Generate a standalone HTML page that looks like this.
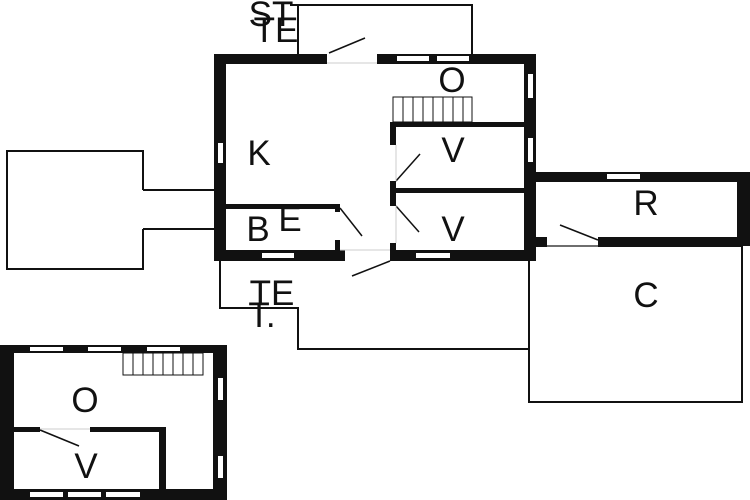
<!DOCTYPE html>
<html><head><style>html,body{margin:0;padding:0;background:#fff}svg{display:block}text{font-family:"Liberation Sans",sans-serif;fill:#111}</style></head>
<body>
<svg width="750" height="500" viewBox="0 0 750 500" xmlns="http://www.w3.org/2000/svg">
<g fill="none" stroke="#111" stroke-width="2">
<path d="M143,190 H214 M143,229 H214 M143,190 V151 H7 V269 H143 V229"/>
<path d="M298,54 V5 H472 V54 M290,5 H298"/>
<path d="M220,261 V308 H298 V349 H529"/>
<rect x="529" y="246" width="213" height="156"/>
</g>
<g fill="#111">
<rect x="214" y="54" width="113" height="10"/>
<rect x="377" y="54" width="159" height="10"/>
<rect x="214" y="54" width="12" height="207"/>
<rect x="524" y="54" width="12" height="207"/>
<rect x="214" y="250" width="131" height="11"/>
<rect x="390" y="250" width="146" height="11"/>
<rect x="390" y="122" width="134" height="5"/>
<rect x="390" y="122" width="6" height="23"/>
<rect x="390" y="181" width="6" height="25"/>
<rect x="390" y="243" width="6" height="10"/>
<rect x="390" y="188" width="134" height="5"/>
<rect x="226" y="204" width="114" height="5"/>
<rect x="335" y="204" width="5" height="8"/>
<rect x="335" y="240" width="5" height="10"/>
<rect x="527" y="172" width="223" height="10"/>
<rect x="737" y="172" width="13" height="74"/>
<rect x="598" y="237" width="152" height="9"/>
<rect x="527" y="237" width="20" height="9"/>
<rect x="0" y="345" width="227" height="8"/>
<rect x="0" y="345" width="14" height="155"/>
<rect x="213" y="345" width="14" height="155"/>
<rect x="0" y="489" width="227" height="11"/>
<rect x="14" y="427" width="26" height="5"/>
<rect x="90" y="427" width="76" height="5"/>
<rect x="159" y="427" width="7" height="62"/>
</g>
<g fill="#fff">
<rect x="397" y="56" width="32" height="5"/><rect x="437" y="56" width="32" height="5"/>
<rect x="528" y="74" width="5" height="24"/><rect x="528" y="138" width="5" height="24"/>
<rect x="218" y="143" width="5" height="20"/>
<rect x="262" y="253" width="32" height="5"/><rect x="416" y="253" width="34" height="5"/>
<rect x="607" y="174" width="33" height="5"/>
<rect x="30" y="347" width="33" height="4"/><rect x="88" y="347" width="33" height="4"/><rect x="147" y="347" width="33" height="4"/>
<rect x="218" y="378" width="5" height="22"/><rect x="218" y="456" width="5" height="22"/>
<rect x="30" y="492" width="33" height="5"/><rect x="68" y="492" width="33" height="5"/><rect x="106" y="492" width="34" height="5"/>
</g>
<g stroke="#111" stroke-width="1.5" fill="none">
<path d="M329,53 L365,38"/><path d="M390,261 L352,276"/><path d="M340,208 L362,236"/>
<path d="M396,181 L420,154"/><path d="M396,206 L419,232"/><path d="M598,240 L560,225"/>
<path d="M40,430 L79,446"/>
<rect x="393" y="97" width="79" height="25" stroke-width="1"/>
<path d="M403,97V122M413,97V122M423,97V122M433,97V122M443,97V122M453,97V122M463,97V122" stroke-width="1"/>
<rect x="123" y="353" width="80" height="22" stroke-width="1"/>
<path d="M133,353V375M143,353V375M153,353V375M163,353V375M173,353V375M183,353V375M193,353V375" stroke-width="1"/>
</g>
<g stroke="#ccc" stroke-width="1"><path d="M327,63H377M340,250H390M396,145V181M396,206V243M547,246H598M40,429H90"/></g>
<g font-size="35" text-anchor="middle">
<text x="452" y="92">O</text>
<text x="259" y="165">K</text>
<text x="453" y="162">V</text>
<text x="453" y="241">V</text>
<text x="646" y="215">R</text>
<text x="646" y="307">C</text>
<text x="258" y="241">B</text>
<text x="290" y="231">E</text>
<text x="272" y="305">TE</text>
<text x="262" y="327">T.</text>
<text x="271" y="26">ST</text>
<text x="276" y="42">TE</text>
<text x="85" y="412">O</text>
<text x="86" y="478">V</text>
</g>
</svg>
</body></html>
